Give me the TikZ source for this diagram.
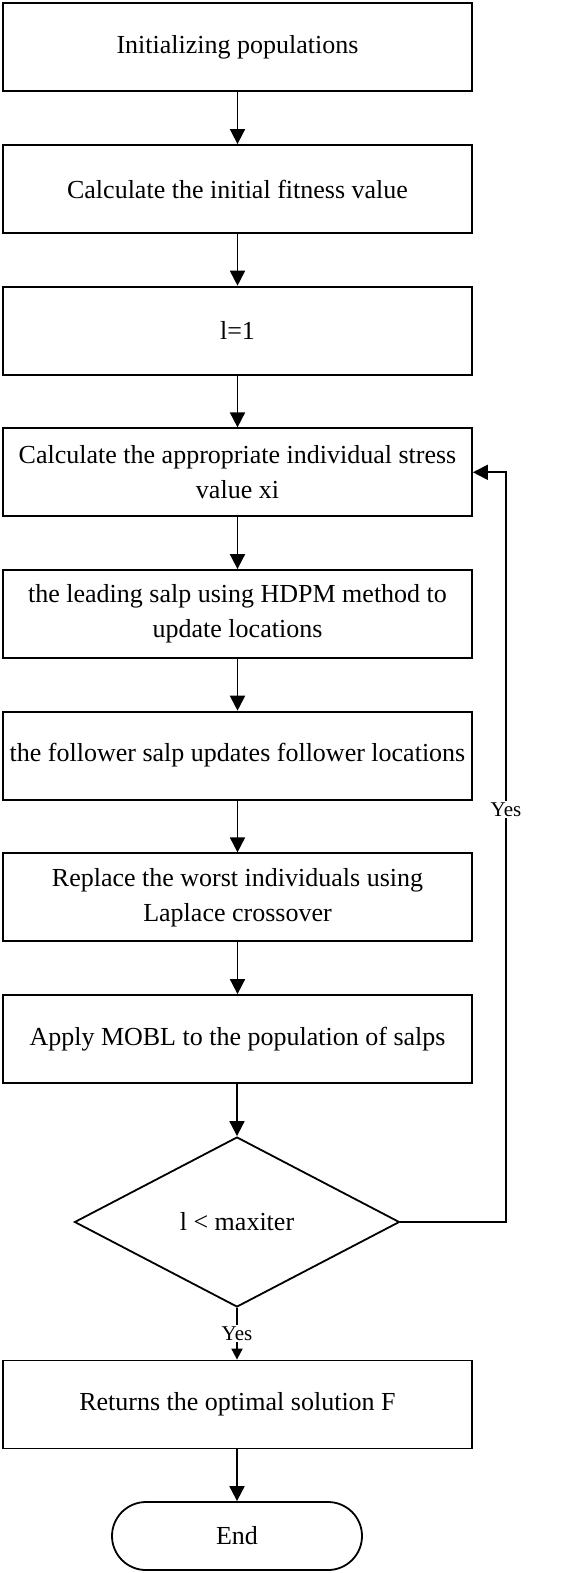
\documentclass[tikz,border=0pt]{standalone}
\usepackage{fontspec}
\setmainfont{Liberation Serif}
\usetikzlibrary{shapes.geometric,arrows.meta}
\begin{document}
\begin{tikzpicture}[x=1pt,y=-1pt,
  box/.style={draw,line width=1.8pt,minimum width=469pt,minimum height=88pt,inner sep=0pt,align=center,font=\fontsize{26}{35}\selectfont},
  decision/.style={draw,diamond,line width=1.8pt,minimum width=325pt,minimum height=170pt,inner sep=0pt,font=\fontsize{26}{35}\selectfont},
  terminal/.style={draw,rounded corners=34pt,line width=1.8pt,minimum width=250pt,minimum height=68pt,inner sep=0pt,font=\fontsize{26}{35}\selectfont},
  arr/.style={line width=1.8pt,-{Triangle[length=15pt,width=15pt]}},
  sarr/.style={line width=1.8pt,-{Triangle[length=11pt,width=11pt]}},
  lbl/.style={fill=white,inner sep=1.5pt,font=\fontsize{21}{24}\selectfont}
]
\useasboundingbox (0,0) rectangle (574,1573);
\node[box] (b1) at (237.5,47.3) {Initializing populations};
\node[box] (b2) at (237.5,189) {Calculate the initial fitness value};
\node[box] (b3) at (237.5,330.6) {l=1};
\node[box] (b4) at (237.5,472.3) {Calculate the appropriate individual stress\\value xi};
\node[box] (b5) at (237.5,614) {the leading salp using HDPM method to\\update locations};
\node[box] (b6) at (237.5,755.6) {the follower salp updates follower locations};
\node[box] (b7) at (237.5,897.3) {Replace the worst individuals using\\Laplace crossover};
\node[box] (b8) at (237.5,1039) {Apply MOBL to the population of salps};
\node[decision] (d) at (237,1222) {l < maxiter};
\node[box] (b9) at (237.5,1404.5) {Returns the optimal solution F};
\node[terminal] (e) at (237,1536) {End};
\coordinate (c1) at (506,1222);
\coordinate (c2) at (506,472.3);
\draw[arr] (b1) -- (b2);
\draw[arr] (b2) -- (b3);
\draw[arr] (b3) -- (b4);
\draw[arr] (b4) -- (b5);
\draw[arr] (b5) -- (b6);
\draw[arr] (b6) -- (b7);
\draw[arr] (b7) -- (b8);
\draw[arr] (b8.south -| d.north) -- (d.north);
\draw[sarr] (d.south) -- node[lbl] {Yes} (b9.north -| d.south);
\draw[arr] (b9.south -| e.north) -- (e.north);
\draw[arr] (d.east) -- (c1) -- node[lbl,pos=0.55] {Yes} (c2) -- (b4.east);
\end{tikzpicture}
\end{document}
